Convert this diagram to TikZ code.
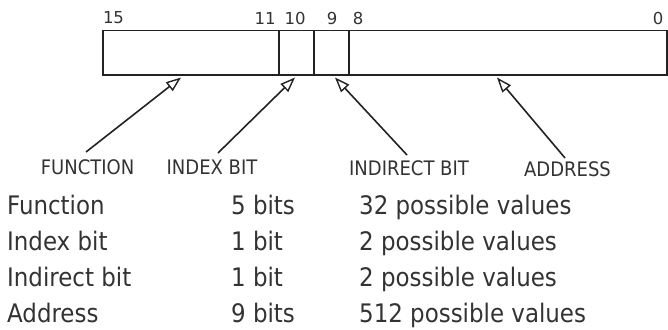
\documentclass[tikz,border=0pt]{standalone}
\usepackage{fontspec}
\setmainfont{DejaVu Sans Condensed}
\newfontfamily\numfont{DejaVu Sans}
\usetikzlibrary{arrows.meta}
\definecolor{ink}{HTML}{222222}
\definecolor{type}{HTML}{333333}
\begin{document}
\begin{tikzpicture}[x=1pt,y=-1pt,
  rule/.style={line width=1.6pt, draw=ink},
  field/.style={rule, minimum height=44.5pt, inner sep=0pt, outer sep=0pt, anchor=north west},
  bitno/.style={font=\fontsize{16.5}{16.5}\selectfont\numfont, text=type, anchor=base, inner sep=0pt},
  tag/.style={font=\fontsize{20}{20}\selectfont, text=type, anchor=base, inner sep=0pt},
  cell/.style={font=\fontsize{25.5}{25.5}\selectfont, text=type, anchor=base west, inner sep=0pt},
  pointer/.style={rule, -{Triangle[open, length=15pt, width=11pt, line width=1.4pt]}}]
\useasboundingbox (0,0) rectangle (668,329);

% instruction word: four fields
\node[field, minimum width=176pt] (fn)  at (103,30.5) {};
\node[field, minimum width=35pt]  (ix)  at (279,30.5) {};
\node[field, minimum width=35pt]  (ind) at (314,30.5) {};
\node[field, minimum width=318pt] (ad)  at (349,30.5) {};

% bit numbers
\node[bitno] (b15) at (113.5,24) {15};
\node[bitno] (b11) at (265,25) {11};
\node[bitno] (b10) at (295,25) {10};
\node[bitno] (b9)  at (332,25) {9};
\node[bitno] (b8)  at (358,25) {8};
\node[bitno] (b0)  at (658,25) {0};

% field labels
\node[tag] (lfn)  at (87.5,174) {FUNCTION};
\node[tag] (lix)  at (212,174)  {INDEX BIT};
\node[tag] (lind) at (409,175)  {INDIRECT BIT};
\node[tag] (lad)  at (567.5,176) {ADDRESS};

% pointer ends
\coordinate (sF) at (86,152);
\coordinate (sI) at (218,153);
\coordinate (sN) at (407,155);
\coordinate (sA) at (565,158);
\coordinate (tF) at (181,77.5);
\coordinate (tI) at (295,77.5);
\coordinate (tN) at (335,77.5);
\coordinate (tA) at (497,77.5);

\draw[pointer] (sF) -- (tF);
\draw[pointer] (sI) -- (tI);
\draw[pointer] (sN) -- (tN);
\draw[pointer] (sA) -- (tA);

% field summary
\node[cell] (r1a) at (7,214) {Function};
\node[cell] (r1b) at (231,214) {5 bits};
\node[cell] (r1c) at (359,214) {32 possible values};
\node[cell] (r2a) at (7,250) {Index bit};
\node[cell] (r2b) at (231,250) {1 bit};
\node[cell] (r2c) at (359,250) {2 possible values};
\node[cell] (r3a) at (7,286) {Indirect bit};
\node[cell] (r3b) at (231,286) {1 bit};
\node[cell] (r3c) at (359,286) {2 possible values};
\node[cell] (r4a) at (7,322) {Address};
\node[cell] (r4b) at (231,322) {9 bits};
\node[cell] (r4c) at (359,322) {512 possible values};
\end{tikzpicture}
\end{document}
